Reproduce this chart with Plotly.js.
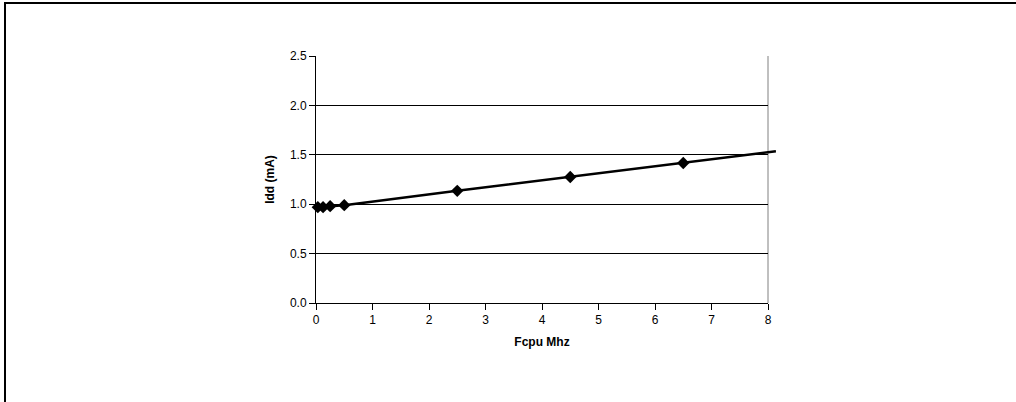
<!DOCTYPE html>
<html>
<head>
<meta charset="utf-8">
<script src="https://cdn.plot.ly/plotly-3.0.1.min.js"></script>
<style>
  html, body { margin: 0; padding: 0; background: #fff; }
  #chart { width: 1016px; height: 402px; }
  #frame { position: absolute; left: 4px; top: 2px; width: 1100px; height: 500px;
           border-top: 2px solid #000; border-left: 2px solid #000; pointer-events: none; }
</style>
</head>
<body>
<div id="chart"></div>
<div id="frame"></div>
<script>
// Measured data points
const fcpu = [0.032, 0.125, 0.25, 0.5, 2.5, 4.5, 6.5];
const idd  = [0.97, 0.97, 0.98, 0.99, 1.135, 1.275, 1.417];
// Connecting line (includes the segment running just past the axis end)
const lineX = [0.032, 0.125, 0.25, 0.5, 2.5, 4.5, 6.5, 8.14];
const lineY = [0.97, 0.97, 0.98, 0.99, 1.135, 1.275, 1.417, 1.535];
const xTicks = [0, 1, 2, 3, 4, 5, 6, 7, 8];
const yTicks = [0.0, 0.5, 1.0, 1.5, 2.0, 2.5];

const W = 1016, H = 402;
const L = 316, R = 768, T = 56, B = 303;
const pxPerUnit = (R - L) / 8;
const ext = 8; // px the line runs past the axis end
const d1 = (R - L) / (R - L + ext);

const font = {family: 'Liberation Sans, Arial, sans-serif', size: 12, color: '#000'};
const titleFont = {family: font.family, size: 12, color: '#000', weight: 'bold'};

const traces = [
  {x: lineX, y: lineY, xaxis: 'x2', yaxis: 'y2', mode: 'lines',
   line: {color: '#000', width: 2.5}, hoverinfo: 'skip', showlegend: false},
  {x: fcpu, y: idd, xaxis: 'x', yaxis: 'y', mode: 'markers',
   marker: {symbol: 'diamond', size: 9.5, color: '#000'}, cliponaxis: false, showlegend: false}
];

const layout = {
  width: W, height: H,
  margin: {l: L, r: W - R - ext, t: T, b: H - B, pad: 0},
  paper_bgcolor: '#fff', plot_bgcolor: 'rgba(0,0,0,0)',
  font: font,
  showlegend: false,
  xaxis: {
    domain: [0, d1], range: [0, 8], tickvals: xTicks, ticktext: xTicks.map(String),
    ticks: 'outside', ticklen: 6, tickcolor: '#000', tickwidth: 1,
    showline: true, linecolor: '#000', linewidth: 1, mirror: false,
    showgrid: false, zeroline: false,
    tickfont: font,
    title: {text: 'Fcpu Mhz', font: titleFont, standoff: 11}
  },
  xaxis2: {
    domain: [0, 1], range: [0, 8 + ext / pxPerUnit], anchor: 'y2',
    visible: false, showgrid: false, zeroline: false
  },
  yaxis: {
    range: [0, 2.5], tickvals: yTicks, ticktext: yTicks.map(v => v.toFixed(1)),
    ticks: 'outside', ticklen: 6, tickcolor: '#000', tickwidth: 1,
    showline: true, linecolor: '#000', linewidth: 1,
    showgrid: true, gridcolor: '#000', gridwidth: 1, zeroline: false,
    tickfont: font,
    title: {text: 'Idd (mA)', font: titleFont, standoff: 12}
  },
  yaxis2: {
    domain: [0, 1], range: [0, 2.5], anchor: 'x2',
    visible: false, showgrid: false, zeroline: false
  },
  shapes: [
    {type: 'line', xref: 'x domain', yref: 'y domain', x0: 1, x1: 1, y0: 0, y1: 1,
     line: {color: '#808080', width: 1}, layer: 'below'}
  ]
};

Plotly.newPlot('chart', traces, layout, {displayModeBar: false, staticPlot: true});
</script>
</body>
</html>
